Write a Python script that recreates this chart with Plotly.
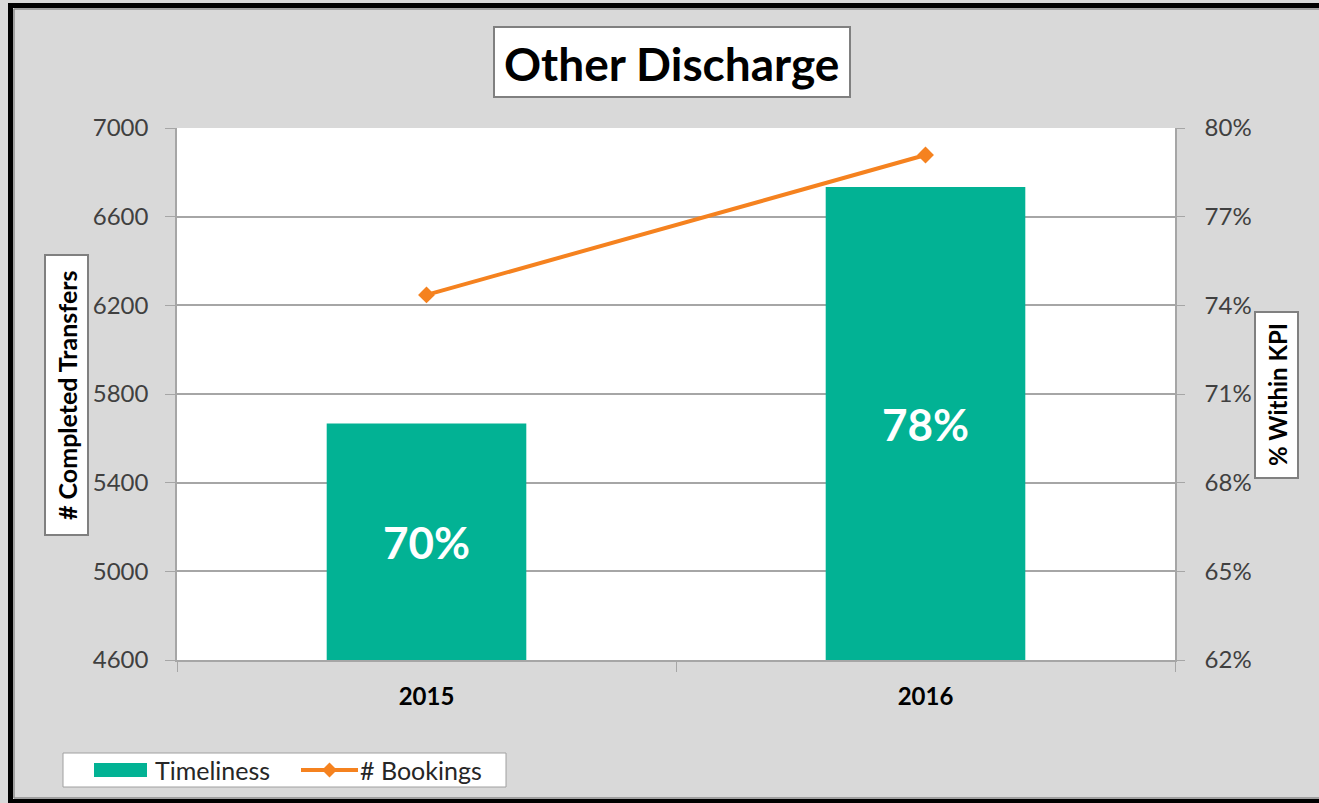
import plotly.graph_objects as go

# ---- data ----
years = ["2015", "2016"]
timeliness = [0.70, 0.78]          # % within KPI (bars, right axis)
bookings = [6247, 6878]            # # completed transfers (line, left axis)
left_ticks = [4600, 5000, 5400, 5800, 6200, 6600, 7000]
right_ticks = [0.62, 0.65, 0.68, 0.71, 0.74, 0.77, 0.80]
series_names = ["Timeliness", "# Bookings"]

TEAL = "#02B294"
ORANGE = "#F5821F"
GRID = "#A6A6A6"
FONT = "Lato"

FIG_W, FIG_H = 1319, 803
# plot area in pixels
PX0, PX1, PY0, PY1 = 177, 1175, 128, 660
W, H = PX1 - PX0, PY1 - PY0


def xp(px):
    return (px - PX0) / W


def yp(py):
    return (PY1 - py) / H


axis_min = right_ticks[0]

fig = go.Figure()
fig.add_trace(go.Bar(
    x=years, y=[v - axis_min for v in timeliness], base=axis_min,
    name=series_names[0], yaxis="y", showlegend=False,
    marker=dict(color=TEAL, line=dict(width=0)), width=0.4,
    text=[f"{v:.0%}" for v in timeliness], textposition="inside",
    insidetextanchor="middle", textangle=0,
    textfont=dict(family=FONT, size=44, color="white", weight="bold"),
))
fig.add_trace(go.Scatter(
    x=years, y=bookings, name=series_names[1], yaxis="y2", mode="lines+markers",
    showlegend=False,
    line=dict(color=ORANGE, width=4),
    marker=dict(symbol="diamond", size=13, color=ORANGE),
))


def pline(x0, y0, x1, y1, color, width):
    return dict(type="line", xref="paper", yref="paper",
                x0=xp(x0), x1=xp(x1), y0=yp(y0), y1=yp(y1),
                line=dict(color=color, width=width), layer="above")


def prect(x0, y0, x1, y1, fill, line_color, lw):
    return dict(type="rect", xref="paper", yref="paper",
                x0=xp(x0), x1=xp(x1), y0=yp(y1), y1=yp(y0),
                fillcolor=fill, line=dict(color=line_color, width=lw))


shapes = [
    # outer frame (right edge lies outside the picture)
    pline(10.5, 3, 10.5, 803, "black", 5),
    pline(8, 5.5, FIG_W, 5.5, "black", 5),
    pline(8, 801, FIG_W, 801, "black", 4),
    pline(14, 9, 14, 798, "#8C8C8C", 1.5),
    pline(14, 9, FIG_W, 9, "#8C8C8C", 1.5),
    pline(14, 798, FIG_W, 798, "#8C8C8C", 1.5),
    # title box
    prect(494, 27, 850, 97, "white", "#808080", 2),
    # axis title boxes
    prect(45, 255, 88, 535, "white", "#808080", 2),
    prect(1255, 312, 1298, 478, "white", "#808080", 2),
    # legend box
    prect(63, 753, 506, 787, "white", "#A0A0A0", 1),
    # legend swatch: bars
    prect(94, 763, 147, 777, TEAL, TEAL, 0),
    # legend swatch: line
    dict(type="line", xref="paper", yref="paper",
         x0=xp(301), x1=xp(358), y0=yp(770), y1=yp(770),
         line=dict(color=ORANGE, width=4)),
]
# legend swatch: diamond marker
cx, cy, r = 329.5, 770, 7.5
shapes.append(dict(
    type="path", xref="paper", yref="paper",
    path=(f"M{xp(cx - r)},{yp(cy)} L{xp(cx)},{yp(cy - r)} "
          f"L{xp(cx + r)},{yp(cy)} L{xp(cx)},{yp(cy + r)} Z"),
    fillcolor=ORANGE, line=dict(color=ORANGE, width=0)))

annotations = [
    dict(text="<b>Other Discharge</b>", xref="paper", yref="paper",
         x=xp(671), y=yp(63), showarrow=False, xanchor="center", yanchor="middle",
         font=dict(family=FONT, size=46, color="black")),
    dict(text="<b># Completed Transfers</b>", xref="paper", yref="paper",
         x=xp(67), y=yp(395), showarrow=False, textangle=-90,
         xanchor="center", yanchor="middle",
         font=dict(family=FONT, size=25, color="black")),
    dict(text="<b>% Within KPI</b>", xref="paper", yref="paper",
         x=xp(1277), y=yp(395), showarrow=False, textangle=-90,
         xanchor="center", yanchor="middle",
         font=dict(family=FONT, size=24, color="black")),
    dict(text=series_names[0], xref="paper", yref="paper",
         x=xp(153), y=yp(770), showarrow=False, xanchor="left", yanchor="middle",
         font=dict(family=FONT, size=25, color="#262626")),
    dict(text=series_names[1], xref="paper", yref="paper",
         x=xp(358), y=yp(770), showarrow=False, xanchor="left", yanchor="middle",
         font=dict(family=FONT, size=25, color="#262626")),
]

fig.update_layout(
    width=FIG_W, height=FIG_H, autosize=False,
    margin=dict(l=PX0, r=FIG_W - PX1, t=PY0, b=FIG_H - PY1, pad=0),
    paper_bgcolor="#D9D9D9", plot_bgcolor="white",
    font=dict(family=FONT, color="#404040"),
    showlegend=False,
    xaxis=dict(type="category", range=[-0.5, 1.5], showline=True, linecolor=GRID,
               linewidth=1.5, ticks="outside", ticklen=10, tickcolor=GRID,
               tickson="boundaries", showgrid=False,
               tickfont=dict(family=FONT, size=24, color="black", weight="bold"),
               ticklabelstandoff=14),
    yaxis=dict(side="right", range=[right_ticks[0], right_ticks[-1]],
               tickvals=right_ticks, tickformat=".0%",
               showline=True, linecolor=GRID, linewidth=1.5,
               ticks="outside", ticklen=8, tickcolor=GRID,
               showgrid=True, gridcolor=GRID, gridwidth=1.5, zeroline=False,
               tickfont=dict(family=FONT, size=24, color="#404040"),
               ticklabelstandoff=15),
    yaxis2=dict(side="left", overlaying="y", range=[left_ticks[0], left_ticks[-1]],
                tickvals=left_ticks, tickformat="d",
                showline=True, linecolor=GRID, linewidth=1.5,
                ticks="outside", ticklen=10, tickcolor=GRID,
                showgrid=False, zeroline=False,
                tickfont=dict(family=FONT, size=24, color="#404040"),
                ticklabelstandoff=12),
    shapes=shapes, annotations=annotations,
    bargap=0.6,
)

post = (
    "document.documentElement.style.margin='0';"
    "document.documentElement.style.overflow='hidden';"
    "document.body.style.margin='0';"
    "document.body.style.overflow='hidden';"
)

fig.write_html("out.html", post_script=post,
               config={"displayModeBar": False, "responsive": False})
